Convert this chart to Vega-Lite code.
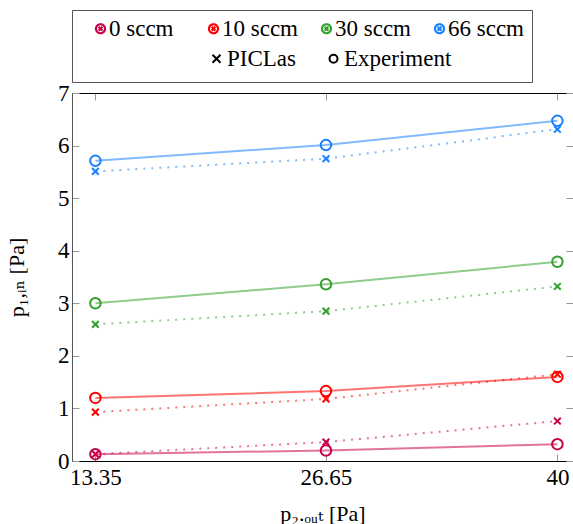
{
  "$schema": "https://vega.github.io/schema/vega-lite/v6.json",
  "width": 501,
  "height": 368,
  "autosize": {"type": "none"},
  "padding": {"left": 72, "top": 93, "right": 0, "bottom": 63},
  "background": "white",
  "data": {
    "values": [
      {"flow": "0 sccm", "source": "Experiment", "p2": 13.35, "p1": 0.13},
      {"flow": "0 sccm", "source": "Experiment", "p2": 26.65, "p1": 0.20},
      {"flow": "0 sccm", "source": "Experiment", "p2": 40, "p1": 0.32},
      {"flow": "0 sccm", "source": "PICLas", "p2": 13.35, "p1": 0.13},
      {"flow": "0 sccm", "source": "PICLas", "p2": 26.65, "p1": 0.36},
      {"flow": "0 sccm", "source": "PICLas", "p2": 40, "p1": 0.76},
      {"flow": "10 sccm", "source": "Experiment", "p2": 13.35, "p1": 1.20},
      {"flow": "10 sccm", "source": "Experiment", "p2": 26.65, "p1": 1.33},
      {"flow": "10 sccm", "source": "Experiment", "p2": 40, "p1": 1.60},
      {"flow": "10 sccm", "source": "PICLas", "p2": 13.35, "p1": 0.93},
      {"flow": "10 sccm", "source": "PICLas", "p2": 26.65, "p1": 1.18},
      {"flow": "10 sccm", "source": "PICLas", "p2": 40, "p1": 1.65},
      {"flow": "30 sccm", "source": "Experiment", "p2": 13.35, "p1": 3.00},
      {"flow": "30 sccm", "source": "Experiment", "p2": 26.65, "p1": 3.36},
      {"flow": "30 sccm", "source": "Experiment", "p2": 40, "p1": 3.79},
      {"flow": "30 sccm", "source": "PICLas", "p2": 13.35, "p1": 2.60},
      {"flow": "30 sccm", "source": "PICLas", "p2": 26.65, "p1": 2.85},
      {"flow": "30 sccm", "source": "PICLas", "p2": 40, "p1": 3.32},
      {"flow": "66 sccm", "source": "Experiment", "p2": 13.35, "p1": 5.71},
      {"flow": "66 sccm", "source": "Experiment", "p2": 26.65, "p1": 6.01},
      {"flow": "66 sccm", "source": "Experiment", "p2": 40, "p1": 6.47},
      {"flow": "66 sccm", "source": "PICLas", "p2": 13.35, "p1": 5.51},
      {"flow": "66 sccm", "source": "PICLas", "p2": 26.65, "p1": 5.75},
      {"flow": "66 sccm", "source": "PICLas", "p2": 40, "p1": 6.31}
    ]
  },
  "config": {
    "view": {"stroke": null},
    "font": "Liberation Serif",
    "axis": {
      "grid": false,
      "labelFont": "Liberation Serif",
      "labelFontSize": 23,
      "labelColor": "black",
      "tickColor": "#999999",
      "tickSize": -7,
      "tickWidth": 1,
      "domainColor": "black",
      "domainWidth": 1,
      "titleFont": "Liberation Serif, DejaVu Serif",
      "titleFontSize": 22,
      "titleFontWeight": "normal",
      "titleColor": "black"
    }
  },
  "resolve": {"axis": {"x": "independent", "y": "independent"}},
  "layer": [
    {
      "transform": [{"filter": "datum.source === 'Experiment'"}],
      "mark": {"type": "point", "filled": false, "strokeWidth": 2, "opacity": 1, "size": 110},
      "encoding": {
        "x": {
          "field": "p2", "type": "quantitative",
          "scale": {"domain": [12, 40.9], "nice": false, "zero": false},
          "axis": {"values": [13.35, 26.65, 40], "format": ".4~g", "labelPadding": 12, "title": "p₂.ₒᵤₜ [Pa]", "titlePadding": 14}
        },
        "y": {
          "field": "p1", "type": "quantitative",
          "scale": {"domain": [0, 7], "nice": false},
          "axis": {"values": [0, 1, 2, 3, 4, 5, 6, 7], "labelPadding": 10, "title": "p₁,ᵢₙ [Pa]", "titlePadding": 29, "domainColor": "#555555"}
        },
        "color": {
          "field": "flow", "type": "nominal",
          "scale": {"domain": ["0 sccm", "10 sccm", "30 sccm", "66 sccm"], "range": ["#c8004b", "#ff0000", "#33a02c", "#1a80ff"]},
          "legend": {
            "orient": "none", "legendX": 0, "legendY": -83,
            "direction": "horizontal", "columns": 4, "gridAlign": "all", "columnPadding": 6,
            "padding": 7, "strokeColor": "#555555",
            "symbolType": "M-1,0A1,1,0,1,1,1,0A1,1,0,1,1,-1,0ZM-0.42,-0.42L0.42,0.42M-0.42,0.42L0.42,-0.42",
            "symbolSize": 81, "symbolStrokeWidth": 2.2, "symbolOpacity": 1, "symbolFillColor": "transparent", "symbolOffset": 10, "symbolDash": [1, 0],
            "labelFont": "Liberation Serif", "labelFontSize": 23, "labelColor": "black", "labelOffset": -3,
            "title": "\u00a0\u00a0\u00a0\u00a0\u00a0\u00a0\u00a0\u00a0\u00a0\u00a0\u00a0\u00a0\u00a0\u00a0\u00a0\u00a0\u00a0\u00a0\u00a0\u00a0\u00a0\u00a0\u00a0\u00a0\u00a0\u00a0\u00a0\u00a0\u00a0\u00a0\u00a0\u00a0\u00a0\u00a0\u00a0\u00a0\u00a0\u00a0\u00a0\u00a0\u00a0\u00a0\u00a0\u00a0\u00a0\u00a0\u00a0\u00a0\u00a0\u00a0\u00a0\u00a0\u00a0\u00a0\u00a0\u00a0\u00a0\u00a0\u00a0\u00a0\u00a0\u00a0\u00a0\u00a0\u00a0\u00a0\u00a0\u00a0\u00a0\u00a0\u00a0\u00a0\u00a0\u00a0\u00a0\u00a0\u00a0\u00a0\u00a0\u00a0\u00a0\u00a0\u00a0\u00a0\u00a0\u00a0\u00a0\u00a0\u00a0\u00a0\u00a0\u00a0\u00a0\u00a0\u00a0\u00a0\u00a0\u00a0\u00a0\u00a0\u00a0\u00a0\u00a0\u00a0\u00a0\u00a0\u00a0\u00a0\u00a0\u00a0\u00a0\u00a0\u00a0\u00a0\u00a0\u00a0\u00a0\u00a0\u00a0\u00a0",
            "titleOrient": "bottom", "titleFontSize": 24, "titlePadding": 10, "titleLimit": 3000
          }
        },
        "shape": {
          "field": "source", "type": "nominal",
          "scale": {"domain": ["PICLas", "Experiment"], "range": ["M-1,-1L1,1M-1,1L1,-1", "circle"]},
          "legend": {
            "orient": "none", "legendX": 133, "legendY": -46,
            "direction": "horizontal", "columns": 2, "gridAlign": "each", "columnPadding": 26,
            "padding": 0, "title": null,
            "symbolSize": 64, "symbolStrokeWidth": 2, "symbolStrokeColor": "black", "symbolFillColor": "transparent", "symbolOpacity": 1,
            "labelFont": "Liberation Serif", "labelFontSize": 23, "labelColor": "black", "labelOffset": -1
          }
        }
      }
    },
    {
      "transform": [{"filter": "datum.source === 'PICLas'"}],
      "mark": {"type": "point", "filled": false, "strokeWidth": 2, "opacity": 1, "size": 45},
      "encoding": {
        "x": {"field": "p2", "type": "quantitative", "axis": null},
        "y": {"field": "p1", "type": "quantitative", "axis": null},
        "color": {"field": "flow", "type": "nominal"},
        "shape": {"field": "source", "type": "nominal"}
      }
    },
    {
      "transform": [{"filter": "datum.source === 'Experiment'"}],
      "mark": {"type": "line", "strokeWidth": 2, "opacity": 0.55},
      "encoding": {
        "x": {"field": "p2", "type": "quantitative", "axis": null},
        "y": {"field": "p1", "type": "quantitative", "axis": null},
        "color": {"field": "flow", "type": "nominal"}
      }
    },
    {
      "transform": [{"filter": "datum.source === 'PICLas'"}],
      "mark": {"type": "line", "strokeWidth": 2, "opacity": 0.55, "strokeDash": [2, 6]},
      "encoding": {
        "x": {"field": "p2", "type": "quantitative", "axis": null},
        "y": {"field": "p1", "type": "quantitative", "axis": null},
        "color": {"field": "flow", "type": "nominal"}
      }
    },
    {
      "mark": {"type": "point", "opacity": 0},
      "encoding": {
        "x": {"field": "p2", "type": "quantitative", "axis": {"orient": "top", "values": [13.35, 26.65, 40], "labels": false, "title": null}},
        "y": {"field": "p1", "type": "quantitative", "axis": {"orient": "right", "values": [0, 1, 2, 3, 4, 5, 6, 7], "labels": false, "title": null, "domain": false}}
      }
    }
  ]
}
